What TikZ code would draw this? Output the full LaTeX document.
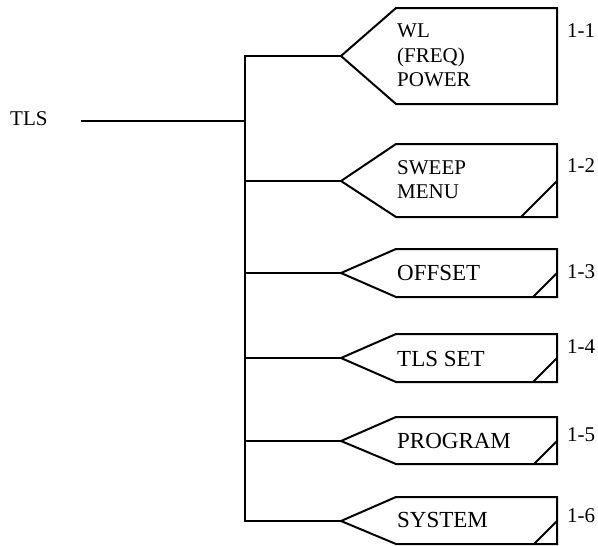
\documentclass[tikz,border=0pt]{standalone}
\usepackage{fontspec}
\setmainfont{Liberation Serif}
\begin{document}
\begin{tikzpicture}[x=1pt,y=-1pt,
  wire/.style={line width=2pt, line join=miter, line cap=rect},
  menubox/.style={line width=2pt, line join=miter},
  smalltext/.style={font=\fontsize{21}{24.5}\selectfont, inner sep=0pt, anchor=west, align=left},
  bigtext/.style={font=\fontsize{23}{27}\selectfont, inner sep=0pt, anchor=west, align=left}]
\useasboundingbox (0,0) rectangle (598,546);
% boxes
\foreach \n/\t/\b/\d in {1/8/104/0, 2/144/217/1, 3/249/297/1, 4/334/382/1, 5/417/464/1, 6/497/544/1}{
  \pgfmathsetmacro\m{round((\t+\b)/2)}
  \pgfmathsetmacro\h{\b-\m}
  \coordinate (p\n) at (341,\m);
  \coordinate (j\n) at (245,\m);
  \draw[menubox] (p\n) -- (396,\t) -- (557,\t) -- (557,\b) -- (396,\b) -- cycle;
  \ifnum\d=1
    \draw[menubox] (557-\h,\b) -- (557,\m);
  \fi
}
% texts
\node[smalltext] (t1) at (397,55.5) {WL\\(FREQ)\\POWER};
\node[smalltext] (t2) at (397,179.5) {SWEEP\\MENU};
\node[bigtext] (t3) at (397,272.5) {OFFSET};
\node[bigtext] (t4) at (397,358.5) {TLS SET};
\node[bigtext] (t5) at (397,441) {PROGRAM};
\node[bigtext] (t6) at (397,520) {SYSTEM};
% labels
\node[smalltext] (l1) at (567,31) {1-1};
\node[smalltext] (l2) at (567,166) {1-2};
\node[smalltext] (l3) at (567,271.5) {1-3};
\node[smalltext] (l4) at (567,347) {1-4};
\node[smalltext] (l5) at (567,434.5) {1-5};
\node[smalltext] (l6) at (567,515.5) {1-6};
% TLS
\node[smalltext] (tls) at (10,119) {TLS};
\coordinate (tlsstart) at (82,121);
\coordinate (jt) at (245,121);
\draw[wire] (tlsstart) -- (jt);
% trunk and branches
\draw[wire] (j1) -- (j6);
\foreach \n in {1,...,6}{ \draw[wire] (j\n) -- (p\n); }
\end{tikzpicture}
\end{document}
